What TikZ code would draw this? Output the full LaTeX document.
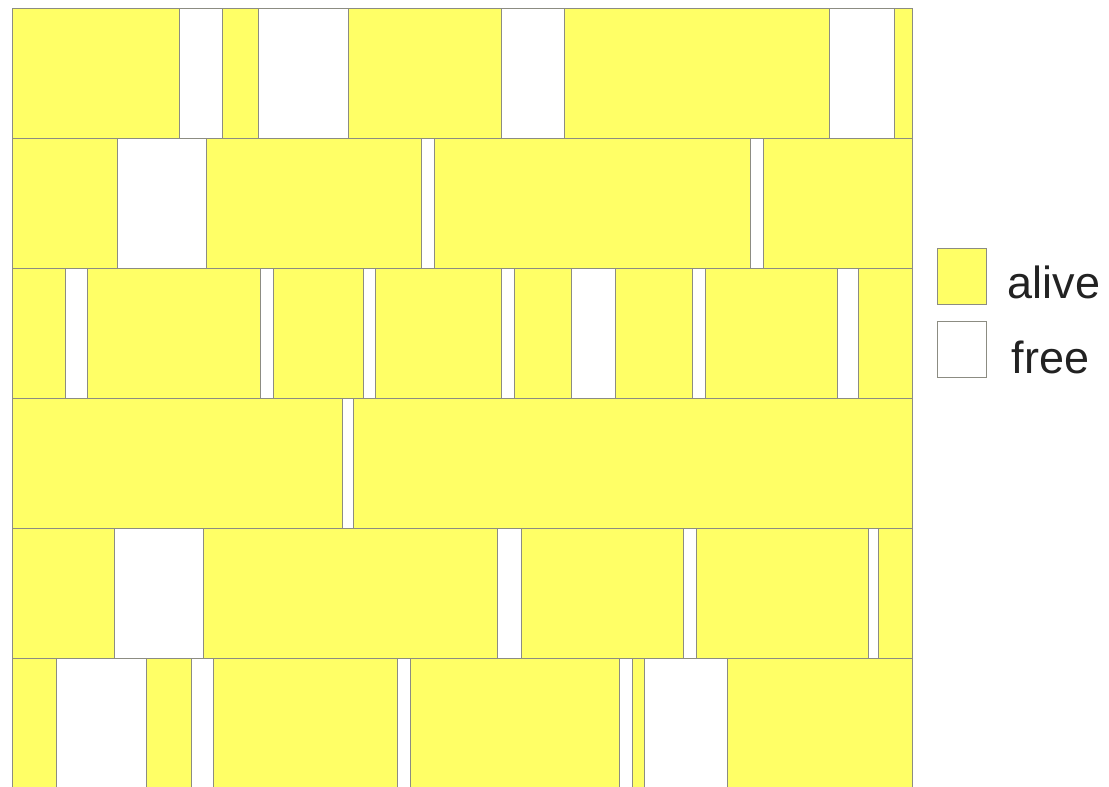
\documentclass[tikz,border=0pt]{standalone}
\usepackage{fontspec}
\setmainfont{Liberation Sans}
\usepackage{tikz}
\usetikzlibrary{positioning}
\definecolor{cellyellow}{RGB}{255,255,102}
\definecolor{cellline}{RGB}{140,140,130}
\definecolor{legendtext}{RGB}{34,34,34}
\tikzset{
  alivecell/.style={
    draw=cellline,
    fill=cellyellow,
    line width=0.9pt
  },
  freecell/.style={
    draw=cellline,
    fill=white,
    line width=0.9pt
  },
  legendbox/.style={
    minimum width=49pt,
    minimum height=56pt,
    inner sep=0pt
  },
  legendlabel/.style={
    font=\fontsize{45}{50}\selectfont,
    text=legendtext,
    inner sep=0pt,
    anchor=west
  }
}
\begin{document}
\begin{tikzpicture}[x=1pt,y=-1pt]
  \useasboundingbox (0,0) rectangle (1109,787);
  % row 1
  \foreach \a/\b/\s in {12/179/alivecell,179/222/freecell,222/258/alivecell,
      258/348/freecell,348/501/alivecell,501/564/freecell,564/829/alivecell,
      829/894/freecell,894/912/alivecell}
    \draw[\s] (\a,8) rectangle (\b,138);
  % row 2
  \foreach \a/\b/\s in {12/117/alivecell,117/206/freecell,206/421/alivecell,
      421/434/freecell,434/750/alivecell,750/763/freecell,763/912/alivecell}
    \draw[\s] (\a,138) rectangle (\b,268);
  % row 3
  \foreach \a/\b/\s in {12/65/alivecell,65/87/freecell,87/260/alivecell,
      260/273/freecell,273/363/alivecell,363/375/freecell,375/501/alivecell,
      501/514/freecell,514/571/alivecell,571/615/freecell,615/692/alivecell,
      692/705/freecell,705/837/alivecell,837/858/freecell,858/912/alivecell}
    \draw[\s] (\a,268) rectangle (\b,398);
  % row 4
  \foreach \a/\b/\s in {12/342/alivecell,342/353/freecell,353/912/alivecell}
    \draw[\s] (\a,398) rectangle (\b,528);
  % row 5
  \foreach \a/\b/\s in {12/114/alivecell,114/203/freecell,203/497/alivecell,
      497/521/freecell,521/683/alivecell,683/696/freecell,696/868/alivecell,
      868/878/freecell,878/912/alivecell}
    \draw[\s] (\a,528) rectangle (\b,658);
  % row 6 (runs off the bottom)
  \foreach \a/\b/\s in {12/56/alivecell,56/146/freecell,146/191/alivecell,
      191/213/freecell,213/397/alivecell,397/410/freecell,410/619/alivecell,
      619/632/freecell,632/644/alivecell,644/727/freecell,727/912/alivecell}
    \draw[\s] (\a,658) rectangle (\b,790);

  % legend
  \node[alivecell,legendbox] (legalive) at (961.5,276) {};
  \node[freecell,legendbox] (legfree) at (961.5,349.5) {};
  \node[legendlabel,right=21pt of legalive.east,anchor=west,yshift=-6pt] (txtalive) {alive};
  \node[legendlabel,right=25pt of legfree.east,anchor=west,yshift=-8pt] (txtfree) {free};
\end{tikzpicture}
\end{document}
